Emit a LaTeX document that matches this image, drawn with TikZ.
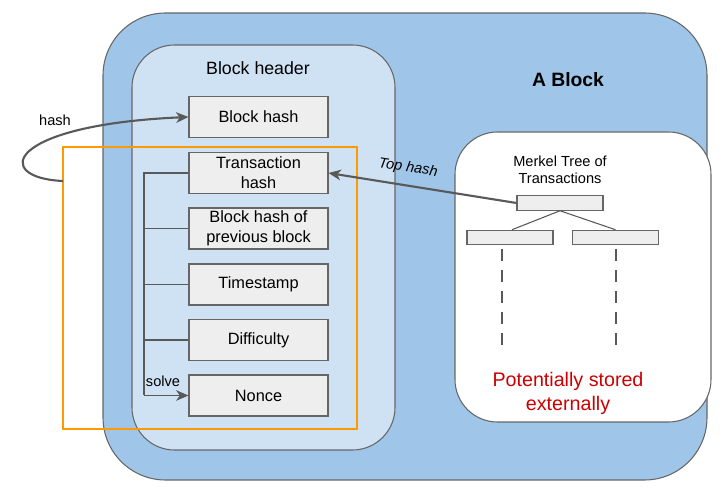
\documentclass[tikz,border=0pt]{standalone}
\usepackage{fontspec}
\setmainfont{Liberation Sans}
\usetikzlibrary{arrows.meta}
\definecolor{blockblue}{HTML}{9FC5E8}
\definecolor{headblue}{HTML}{CFE2F3}
\definecolor{fieldgray}{HTML}{EEEEEE}
\definecolor{edgegray}{HTML}{666666}
\definecolor{linegray}{HTML}{595959}
\definecolor{solveorange}{HTML}{FF9900}
\definecolor{extred}{HTML}{CC0000}

\begin{document}
\begin{tikzpicture}[x=0.02cm, y=-0.02cm,
		field/.style={draw=edgegray, fill=fieldgray, line width=0.6pt, minimum width=2.78cm, minimum height=0.82cm, inner sep=0pt, align=center, font=\fontsize{9.3}{11.3}\selectfont},
		leaf/.style={draw=edgegray, fill=fieldgray, line width=0.6pt, minimum width=1.72cm, minimum height=0.29cm, inner sep=0pt},
		conn/.style={draw=linegray, line width=0.6pt},
		arr/.style={draw=linegray, line width=1.2pt, -{Stealth[length=7pt, width=6pt, inset=2pt]}}]
		\useasboundingbox (0, 0) rectangle (724, 496);
		% the block and its two parts
		\draw [fill=blockblue, draw=edgegray, line width=0.6pt, rounded corners=1.25cm] (103, 13) rectangle (707, 480);
		\draw [fill=headblue, draw=edgegray, line width=0.6pt, rounded corners=0.85cm] (132, 45) rectangle (395, 450);
		\draw [fill=white, draw=edgegray, line width=0.6pt, rounded corners=0.85cm] (455, 132) rectangle (711, 422);
		\node (hdr) at (258, 68) {\fontsize{10.1}{12}\selectfont Block header};
		\node (blk) at (568, 80) {\fontsize{11}{13}\selectfont\bfseries A Block};
		% header fields
		\node [field] (bh) at (258.5, 117) {Block hash};
		\node [field] (txh) at (258.5, 173) {Transaction\\hash};
		\node [field] (prev) at (258.5, 228.5) {Block hash of\\previous block};
		\node [field] (time) at (258.5, 284.5) {Timestamp};
		\node [field] (diff) at (258.5, 340) {Difficulty};
		\node [field] (nonce) at (258.5, 395.5) {Nonce};
		% fields fed into the hash
		\draw [solveorange, line width=1.3pt] (63, 147) rectangle (357, 429);
		\coordinate (bus) at (144, 0);
		\draw [conn] (txh.west) -- (txh.west -| bus) -- (nonce.west -| bus);
		\foreach \f in {prev, time, diff}
			\draw [conn] (\f.west) -- (\f.west -| bus);
		\draw [arr, line width=0.9pt] (nonce.west -| bus) -- (nonce.west);
		\node [font=\fontsize{8.3}{10}\selectfont] (solve) at (163, 381) {solve};
		% hash of the header gives the block hash
		\coordinate (hstart) at (63, 181);
		\draw [arr] (hstart) .. controls (-8, 178) and (5, 125) .. (bh.west);
		\node [font=\fontsize{8.3}{10}\selectfont] (hlbl) at (55, 120) {hash};
		% merkle tree
		\node [align=center, font=\fontsize{8.3}{10}\selectfont] (mtitle) at (560, 170) {Merkel Tree of\\Transactions};
		\node [leaf] (root) at (560, 203) {};
		\node [leaf] (lleaf) at (510, 237.5) {};
		\node [leaf] (rleaf) at (615.5, 237.5) {};
		\draw [conn] (root.south) -- ([xshift=2*0.02cm]lleaf.north);
		\draw [conn] (root.south) -- (rleaf.north);
		\coordinate (ldash) at (502, 249);
		\coordinate (rdash) at (616, 249);
		\draw [linegray, line width=1.2pt, dash pattern=on 6.8pt off 5.2pt] (ldash) -- ++(0, 96);
		\draw [linegray, line width=1.2pt, dash pattern=on 6.8pt off 5.2pt] (rdash) -- ++(0, 96);
		\node [extred, align=center, font=\fontsize{11.2}{13.6}\selectfont] (ext) at (568, 393) {Potentially stored\\externally};
		% top hash goes into the header
		\draw [arr] (root.west) -- (txh.east);
		\node [rotate=-9, font=\itshape\fontsize{8.3}{10}\selectfont] (tlbl) at (408, 168) {Top hash};
	\end{tikzpicture}
\end{document}
